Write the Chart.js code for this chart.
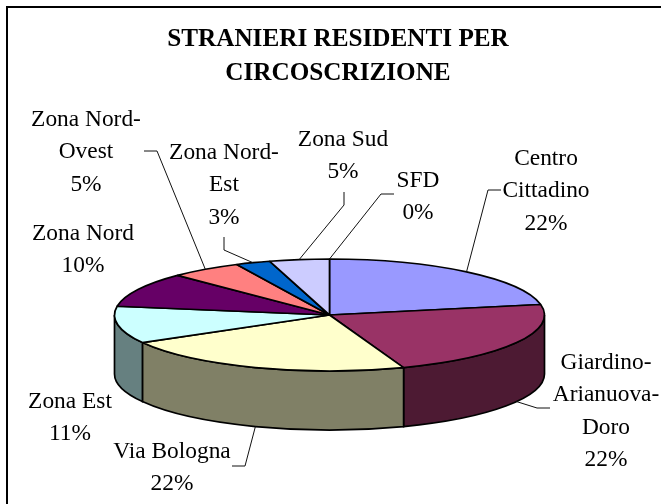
<!DOCTYPE html>
<html><head><meta charset="utf-8">
<style>html,body{margin:0;padding:0;background:#fff}#w{position:relative;width:661px;height:504px}</style>
<script src="https://cdn.jsdelivr.net/npm/chart.js@4"></script>
</head><body><div id="w"><canvas id="c" width="661" height="504"></canvas></div>
<script>
const categories = ['Centro Cittadino','Giardino-Arianuova-Doro','Via Bologna','Zona Est','Zona Nord','Zona Nord-Ovest','Zona Nord-Est','Zona Sud','SFD'];
const labelLines = [['Centro','Cittadino'],['Giardino-','Arianuova-','Doro'],['Via Bologna'],['Zona Est'],['Zona Nord'],['Zona Nord-','Ovest'],['Zona Nord-','Est'],['Zona Sud'],['SFD']];
const values = [22.0,22.4,22.4,10.7,10.0,5.4,2.6,4.5,0];
const topColors = ['#9999FF','#993366','#FFFFCC','#CCFFFF','#660066','#FF8080','#0066CC','#CCCCFF','#000080'];
const sideColors = ['#4D4D80','#4D1A33','#808066','#668080','#330033','#804040','#003366','#666680','#000040'];
const titleLines = ['STRANIERI RESIDENTI PER','CIRCOSCRIZIONE'];

// layout of the text block centres and elbows (x, first line y)
const labelPos = [[546,159],[606,363],[172,452],[70,402],[83,234],[86,120],[224,153],[343,140],[418,181]];
const elbows = [[[501,190],[488,190]],[[550,408],[537,408]],[[232,466],[245,466]],null,null,[[144,151],[157,151]],[[224,237],[224,250]],[[344,192],[344,205]],[[394,194],[381,194]]];
const PIE = {cx:329.5, cy:315, rx:215, ry:56, depth:59};
const LINE = 32.2, FONT = '23.4px "Liberation Serif"';

const pie3d = {
  id:'pie3d',
  beforeDraw(chart){
    const {ctx,width,height}=chart;
    ctx.save();ctx.fillStyle='#fff';ctx.fillRect(0,0,width,height);
    ctx.strokeStyle='#000';ctx.lineWidth=2;
    ctx.beginPath();ctx.moveTo(7,height);ctx.lineTo(7,7);ctx.lineTo(width,7);ctx.stroke();
    ctx.restore();
  },
  beforeDatasetDraw(chart,args){
    const {ctx}=chart;
    const arcs=args.meta.data;
    const {cx,cy,rx,ry,depth}=PIE;
    const sy=ry/rx;
    // side walls (front half of the ellipse), taken from the arcs' own angles
    arcs.forEach((arc,i)=>{
      const a=Math.max(arc.startAngle,0), b=Math.min(arc.endAngle,Math.PI);
      if(b<=a) return;
      ctx.save();
      ctx.beginPath();
      ctx.ellipse(cx,cy,rx,ry,0,a,b);
      ctx.ellipse(cx,cy+depth,rx,ry,0,b,a,true);
      ctx.closePath();
      ctx.fillStyle=sideColors[i];ctx.fill();
      ctx.strokeStyle='#000';ctx.lineWidth=1.7;ctx.stroke();
      ctx.restore();
    });
    // top face: the library's arcs squeezed into an ellipse; stroke in screen space
    arcs.forEach(arc=>{
      if(arc.endAngle-arc.startAngle<=0) return;
      ctx.save();
      const st=ctx.stroke;
      ctx.stroke=function(){ctx.save();ctx.setTransform(1,0,0,1,0,0);st.call(ctx);ctx.restore();};
      ctx.translate(cx,cy);ctx.scale(rx/arc.outerRadius,sy*rx/arc.outerRadius);ctx.translate(-arc.x,-arc.y);
      arc.draw(ctx);
      delete ctx.stroke;
      ctx.restore();
    });
    return false;
  },
  afterDatasetsDraw(chart){
    const {ctx}=chart;
    const arcs=chart.getDatasetMeta(0).data;
    const {cx,cy,rx,ry,depth}=PIE;
    ctx.save();
    ctx.font=FONT;ctx.fillStyle='#000';ctx.textAlign='center';ctx.textBaseline='middle';
    arcs.forEach((arc,i)=>{
      const [x,y]=labelPos[i];
      const lines=[...labelLines[i],Math.round(values[i])+'%'];
      lines.forEach((t,k)=>ctx.fillText(t,x,y+k*LINE));
      const e=elbows[i];
      if(!e) return;
      const mid=(arc.startAngle+arc.endAngle)/2;
      const px=cx+rx*Math.cos(mid);
      let py=cy+ry*Math.sin(mid);
      if(Math.sin(mid)>0) py+=depth;
      ctx.beginPath();ctx.moveTo(e[0][0],e[0][1]);ctx.lineTo(e[1][0],e[1][1]);ctx.lineTo(px,py);
      ctx.strokeStyle='#111';ctx.lineWidth=1;ctx.stroke();
    });
    ctx.restore();
  }
};

new Chart(document.getElementById('c'),{
  type:'pie',
  data:{labels:categories,datasets:[{data:values,backgroundColor:topColors,borderColor:'#000',borderWidth:1.7,borderAlign:'center'}]},
  options:{
    responsive:false,animation:false,radius:215,
    layout:{padding:{left:15}},
    plugins:{
      legend:{display:false},tooltip:{enabled:false},
      title:{display:true,text:titleLines,color:'#000',align:'center',
        font:{family:'"Liberation Serif"',size:25.2,weight:'bold',lineHeight:1.36},
        padding:{top:22,bottom:0}}
    }
  },
  plugins:[pie3d]
});
</script></body></html>
